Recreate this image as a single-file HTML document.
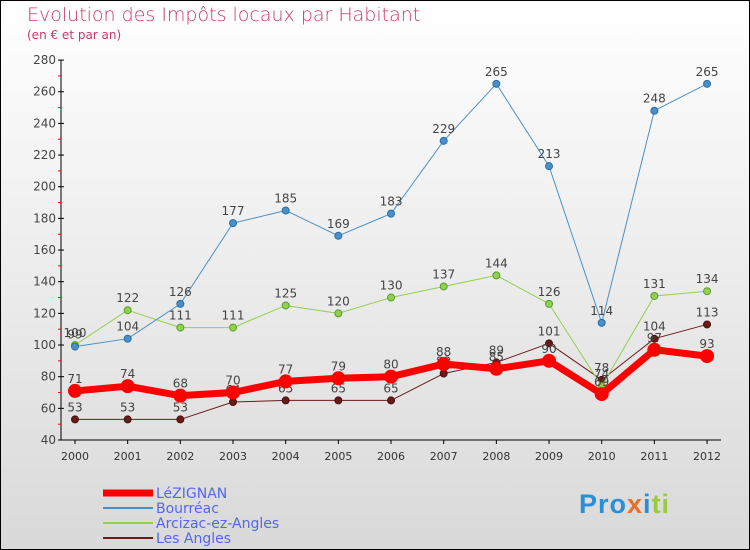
<!DOCTYPE html>
<html><head><meta charset="utf-8"><style>
body{margin:0}
#wrap{width:748px;height:548px;border:1px solid #000;background:linear-gradient(#fff,#d9d9d9);position:relative;font-family:"DejaVu Sans","Liberation Sans",sans-serif;overflow:hidden}
.t{position:absolute;left:26px;top:3px;font-size:19px;color:#c8386a;font-weight:200}
.s{position:absolute;left:26px;top:27px;font-size:12px;color:#c8386a}
</style></head><body>
<div id="wrap">
<div class="t">Evolution des Impôts locaux par Habitant</div>
<div class="s">(en € et par an)</div>
<svg id="c" width="748" height="548" style="position:absolute;left:0;top:0"></svg>
<div style="position:absolute;left:578px;top:488px;font-size:27px;font-weight:bold;font-family:'Liberation Sans',sans-serif;letter-spacing:1px"><span style="color:#2a8fd6">Pro</span><span style="color:#e8702a">x</span><span style="color:#2a8fd6">i</span><span style="color:#9acb3c">ti</span></div>
</div>
<script>
const years=[2000,2001,2002,2003,2004,2005,2006,2007,2008,2009,2010,2011,2012];
const yTicks=[40,60,80,100,120,140,160,180,200,220,240,260,280];
const lezignan=[71,74,68,70,77,79,80,88,85,90,69,97,93];
const bourreac=[99,104,126,177,185,169,183,229,265,213,114,248,265];
const arcizac=[100,122,111,111,125,120,130,137,144,126,74,131,134];
const angles=[53,53,53,64,65,65,65,82,89,101,78,104,113];
const NS="http://www.w3.org/2000/svg";
const svg=document.getElementById('c');
const X=i=>74+i*52.67;
const Y=v=>439-(v-40)*1.583;
function mk(t,a,p){const e=document.createElementNS(NS,t);for(const k in a)e.setAttribute(k,a[k]);(p||svg).appendChild(e);return e;}
const axis=mk('g',{});


mk('line',{x1:60,y1:Y(280),x2:60,y2:Y(40),stroke:'#000'},axis);
yTicks.forEach(v=>{
 mk('line',{x1:57,y1:Y(v),x2:63,y2:Y(v),stroke:'#000'},axis);
 if(v<280)mk('line',{x1:57,y1:Y(v+10),x2:60,y2:Y(v+10),stroke:'red'},axis);
 const t=mk('text',{x:55,y:Y(v)+4,'text-anchor':'end','font-size':12,fill:'#444'},axis);t.textContent=v;
});
const xa=mk('g',{});


mk('line',{x1:60,y1:Y(40),x2:720,y2:Y(40),stroke:'#000'},xa);
years.forEach((y,i)=>{mk('line',{x1:X(i),y1:Y(40),x2:X(i),y2:Y(40)+4,stroke:'#000'},xa);
 const t=mk('text',{x:X(i),y:Y(40)+20,'text-anchor':'middle','font-size':11,fill:'#333'},xa);t.textContent=y;});
function series(name,data,color,w,r,stroke){
 const g=mk('g',{});
 
 
 mk('polyline',{points:data.map((v,i)=>X(i)+','+Y(v)).join(' '),fill:'none',stroke:color,'stroke-width':w,'stroke-linejoin':'round'},g);
 data.forEach((v,i)=>{mk('circle',{cx:X(i),cy:Y(v),r:r,fill:color,stroke:stroke,'stroke-width':1},g);
  const t=mk('text',{x:X(i),y:Y(v)-8,'text-anchor':'middle','font-size':12,fill:'#444'},g);t.textContent=v;});
}
series('series-les-angles',angles,'#6b1a1a',1,3.5,'#4a0f0f');
series('series-arcizac',arcizac,'#92d050',1,3.5,'#5a9e2a');
series('series-bourreac',bourreac,'#4a90c8',1,3.5,'#2a6ea6');
series('series-lezignan',lezignan,'#ff0000',7,6.5,'#ff0000');
const leg=[['LéZIGNAN','#ff0000',7],['Bourréac','#4a90c8',2],['Arcizac-ez-Angles','#92d050',2],['Les Angles','#6b1a1a',2]];
leg.forEach((l,i)=>{const g=mk('g',{});
 
 
 const y=492+i*15;
 mk('line',{x1:102,y1:y,x2:152,y2:y,stroke:l[1],'stroke-width':l[2]},g);
 const t=mk('text',{x:155,y:y+5,'font-size':14,fill:'#5566ee'},g);t.textContent=l[0];});
</script>
</body></html>
